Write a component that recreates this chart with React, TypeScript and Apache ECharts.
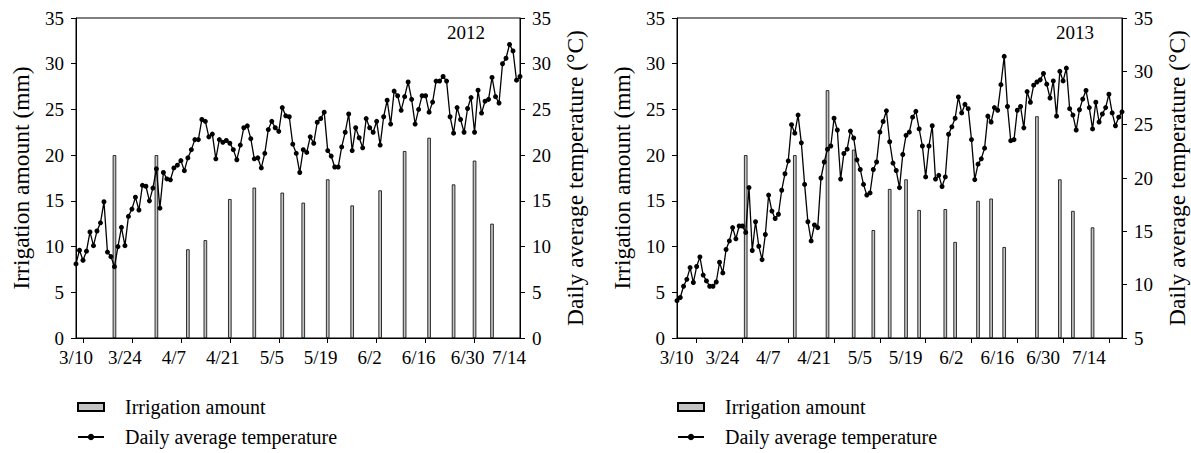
import React, { useEffect, useRef } from "react";
import * as echarts from "echarts";

const FONT = '"Liberation Serif", "Times New Roman", serif';

const xTickLabels = ["3/10", "3/24", "4/7", "4/21", "5/5", "5/19", "6/2", "6/16", "6/30", "7/14"];

// 2012: daily average temperature from 3/8 to 7/13
const temp2012 = [
  8.1, 9.6, 8.5, 9.5, 11.6, 10.1, 11.7, 12.6, 14.9, 9.4, 8.9, 7.8, 10.0, 12.1, 10.1, 13.3,
  14.1, 15.4, 14.0, 16.7, 16.6, 15.0, 16.4, 18.5, 14.2, 18.1, 17.4, 17.3, 18.6, 18.9, 19.4, 18.3,
  19.7, 20.6, 21.7, 21.7, 23.9, 23.7, 22.0, 22.3, 19.6, 21.7, 21.4, 21.6, 21.3, 20.6, 19.5, 21.1,
  23.0, 23.2, 21.8, 19.6, 19.7, 18.6, 20.2, 22.8, 23.7, 23.0, 22.6, 25.2, 24.3, 24.2, 21.2, 20.2,
  18.1, 20.6, 20.3, 22.0, 21.3, 23.6, 24.0, 24.7, 20.5, 19.9, 18.7, 18.7,
  20.9, 22.5, 24.5, 20.5, 23.0, 21.9, 20.8, 24.0, 23.0, 22.5, 23.7, 21.1, 24.2, 26.0, 23.4, 27.0,
  26.5, 24.9, 26.4, 28.0, 26.1, 23.4, 25.0, 26.5, 26.5, 24.7, 25.8, 28.1, 28.1, 28.6, 28.1, 24.2,
  22.4, 25.2, 23.9, 22.5, 25.1, 26.3, 22.5, 27.1, 24.6, 25.9, 26.1, 28.5, 26.4, 25.7, 30.0, 30.6,
  32.1, 31.4, 28.2, 28.6,
];

// 2012 irrigation events
const irrDates2012 = ["3/19", "3/31", "4/9", "4/14", "4/21", "4/28", "5/6", "5/12", "5/19", "5/26", "6/3", "6/10", "6/17", "6/24", "6/30", "7/5"];
const irrValues2012 = [20, 20, 9.7, 10.7, 15.2, 16.45, 15.9, 14.8, 17.35, 14.5, 16.15, 20.45, 21.9, 16.8, 19.4, 12.5];

// 2013: daily average temperature from 3/4 to 7/18
const temp2013 = [
  8.5, 8.8, 9.85, 10.5, 11.6, 10.2, 11.7, 12.6, 10.9, 10.35, 9.85, 9.85, 10.25, 12.1, 11.1, 13.3,
  14.1, 15.35, 14.3, 15.5, 15.5, 14.9, 19.1, 13.2, 15.9, 13.6, 12.35, 14.7, 18.4, 16.9, 16.2, 16.6,
  18.85, 20.4, 21.6,
  25.0, 24.2, 25.9, 23.3, 19.4, 15.9, 14.1, 15.6, 15.35, 20.0, 21.5,
  22.7, 23.0, 25.6, 24.5, 19.9, 22.3, 22.7, 24.4, 23.75, 21.7, 20.8, 19.4, 18.4, 18.6, 20.8, 21.5,
  24.3, 25.3, 26.3, 23.4, 21.4, 20.7, 19.1, 22.2, 24.0, 24.3, 25.7, 26.25, 24.6, 23.0, 20.1, 23.0,
  24.9, 19.9, 20.25, 19.2, 20.1, 24.1, 24.8, 25.6, 27.6, 26.1, 26.9, 26.5, 23.6, 19.85, 21.3, 21.8,
  22.8, 25.8, 25.25, 26.6, 26.35, 28.75, 31.4, 26.7, 23.5, 23.6, 26.35, 26.7, 24.7, 28.1, 27.1, 28.7,
  29.0, 29.2, 29.8, 28.8, 27.5, 29.1, 25.8, 30.0, 29.1, 30.3, 26.5, 25.9, 24.5, 26.4, 27.4, 28.2,
  26.6, 24.6, 27.1, 25.25, 26.0, 26.6, 27.85, 26.1, 24.9, 25.7, 26.2,
];

// 2013 irrigation events
const irrDates2013 = ["3/25", "4/9", "4/19", "4/27", "5/3", "5/8", "5/13", "5/17", "5/25", "5/28", "6/4", "6/8", "6/12", "6/22", "6/29", "7/3", "7/9"];
const irrValues2013 = [20.0, 20.0, 27.1, 20.6, 11.8, 16.3, 17.35, 14.0, 14.1, 10.5, 15.0, 15.25, 9.95, 24.25, 17.35, 13.9, 12.1];

const MONTH_LEN: Record<number, number> = { 3: 31, 4: 30, 5: 31, 6: 30, 7: 31, 8: 31 };
function makeDates(month: number, day: number, count: number): string[] {
  const out: string[] = [];
  let m = month;
  let d = day;
  for (let i = 0; i < count; i++) {
    out.push(`${m}/${d}`);
    d++;
    if (d > MONTH_LEN[m]) {
      d = 1;
      m++;
    }
  }
  return out;
}

const cats2012 = makeDates(3, 8, temp2012.length);
const cats2013 = makeDates(3, 4, temp2013.length);

function alignBars(cats: string[], dates: string[], vals: number[]) {
  return cats.map((c) => {
    const k = dates.indexOf(c);
    return k >= 0 ? vals[k] : null;
  });
}

const TXT = { color: "#000", fontFamily: FONT, fontSize: 19 };

export default function App() {
  const ref = useRef<HTMLDivElement>(null);
  useEffect(() => {
    if (!ref.current) return;
    const chart = echarts.init(ref.current, undefined, { renderer: "svg" });
    const showTick = (_i: number, v: string) => xTickLabels.includes(v);
    const xAxisBase = (grid: number, cats: string[], shift: number) => ({
      type: "category",
      gridIndex: grid,
      data: cats,
      boundaryGap: false,
      axisLine: { lineStyle: { color: "#000", width: 1 } },
      axisTick: { interval: showTick, length: 5, lineStyle: { color: "#000" } },
      axisLabel: { interval: showTick, ...TXT, margin: 10, padding: [0, shift * 2, 0, 0] },
      splitLine: { show: false },
    });
    const yAxisBase = (grid: number, pos: string, min: number, name: string) => ({
      type: "value",
      gridIndex: grid,
      position: pos,
      min,
      max: 35,
      interval: 5,
      axisLine: { show: true, lineStyle: { color: "#000", width: 1 } },
      axisTick: { show: true, length: 5, lineStyle: { color: "#000" } },
      axisLabel: { ...TXT, margin: 12 },
      splitLine: { show: false },
      name,
      nameLocation: "middle",
      nameRotate: 90,
      nameGap: 43,
      nameTextStyle: { ...TXT, fontSize: 23.5 },
    });
    const barStyle = {
      type: "bar",
      name: "Irrigation amount",
      barWidth: 3.5,
      itemStyle: { color: "#c4c4c4", borderColor: "#000", borderWidth: 0.8 },
      z: 2,
    };
    const lineStyle = {
      type: "line",
      name: "Daily average temperature",
      symbol: "circle",
      symbolSize: 5,
      showSymbol: true,
      showAllSymbol: true,
      lineStyle: { color: "#000", width: 1.3 },
      itemStyle: { color: "#000" },
      z: 3,
    };
    const legendBase = (left: number) => ({
      left,
      top: 397,
      height: 56,
      padding: 0,
      orient: "vertical",
      itemWidth: 26,
      itemHeight: 8,
      itemGap: 10,
      data: [{ name: "Irrigation amount", icon: "rect" }, { name: "Daily average temperature" }],
      textStyle: { ...TXT, fontSize: 20, padding: [0, 0, 0, 16] },
    });
    chart.setOption({
      animation: false,
      backgroundColor: "#fff",
      title: [
        { text: "2012", left: 447, top: 23, padding: 0, textStyle: { ...TXT, fontWeight: "normal" } },
        { text: "2013", left: 1056, top: 23, padding: 0, textStyle: { ...TXT, fontWeight: "normal" } },
      ],
      grid: [
        { left: 76, top: 18, width: 444, height: 320, show: true, borderColor: "#000", borderWidth: 1, backgroundColor: "transparent" },
        { left: 677, top: 18, width: 445, height: 320, show: true, borderColor: "#000", borderWidth: 1, backgroundColor: "transparent" },
      ],
      xAxis: [xAxisBase(0, cats2012, 7), xAxisBase(1, cats2013, 20)],
      yAxis: [
        yAxisBase(0, "left", 0, "Irrigation amount (mm)"),
        yAxisBase(0, "right", 0, "Daily average temperature (°C)"),
        yAxisBase(1, "left", 0, "Irrigation amount (mm)"),
        yAxisBase(1, "right", 5, "Daily average temperature (°C)"),
      ],
      legend: [legendBase(77), legendBase(677)],
      graphic: [
        {
          type: "text",
          x: 509,
          y: 348,
          style: { text: "7/14", textAlign: "center", textVerticalAlign: "top", font: `19px ${FONT}`, fill: "#000" },
        },
      ],
      series: [
        { ...barStyle, xAxisIndex: 0, yAxisIndex: 0, data: alignBars(cats2012, irrDates2012, irrValues2012) },
        { ...lineStyle, xAxisIndex: 0, yAxisIndex: 1, data: temp2012 },
        { ...barStyle, xAxisIndex: 1, yAxisIndex: 2, data: alignBars(cats2013, irrDates2013, irrValues2013) },
        { ...lineStyle, xAxisIndex: 1, yAxisIndex: 3, data: temp2013 },
      ],
    });
    return () => chart.dispose();
  }, []);
  return <div ref={ref} style={{ position: "absolute", left: 0, top: 0, width: 1191, height: 453 }} />;
}
